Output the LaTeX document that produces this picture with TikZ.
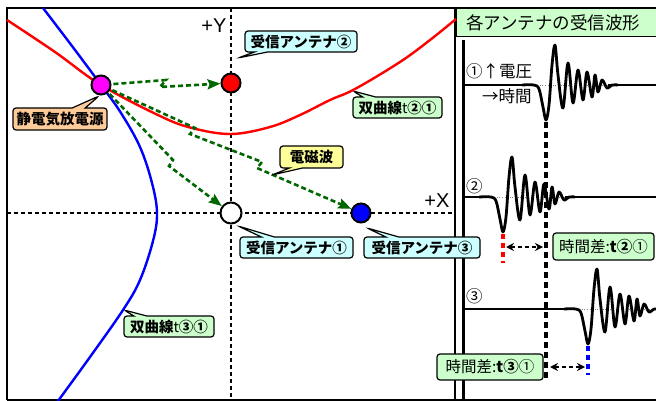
\documentclass[tikz,border=0pt]{standalone}
\usepackage{fontspec}
\setmainfont{Noto Sans CJK JP}
\newfontfamily\latinfont{Liberation Sans}
\usetikzlibrary{arrows.meta,shapes.callouts,calc}
\definecolor{cyanbox}{HTML}{CCFFFF}
\definecolor{orangebox}{HTML}{FFCC99}
\definecolor{greenbox}{HTML}{CCFFCC}
\definecolor{yellowbox}{HTML}{FFFF99}
\definecolor{wavegreen}{HTML}{006600}
\definecolor{srcmag}{HTML}{FF00FF}
\newcommand\wavecurve[2]{%
  \draw[dotted, line width=0.6pt, gray] (#1-14,#2) -- (#1+64,#2);
  \draw[wavestyle, shift={(#1,#2)}] plot[smooth,tension=0.55] coordinates {
  (-24,0) (-12,0) (-7,4) (-3,22) (0,35) (3,20) (6,-20) (9,-40) (12,-10)
  (17,23) (22,-22) (27,18) (32,-15) (37,15) (41,-13) (46,12) (49,-10)
  (52,7) (56,-5) (61,3) (66,0) (72,0)};
}
\tikzset{
  axisdash/.style={line width=2.6pt, dash pattern=on 4pt off 3pt},
  hyp/.style={line width=2.4pt},
  emwave/.style={wavegreen, line width=2.6pt, dash pattern=on 5pt off 3pt,
    -{Stealth[length=13pt,width=10pt,inset=2pt]}, shorten <=2pt},
  antenna/.style={circle, draw=black, line width=2pt, minimum size=19pt, inner sep=0pt},
  callbox/.style={rectangle callout, draw=black, line width=1.2pt, rounded corners=3pt,
    inner sep=0pt, callout pointer width=13pt,
    font=\fontsize{14.5}{14.5}\selectfont\bfseries},
  diffbox/.style={rectangle, draw=black, line width=1.2pt, rounded corners=3pt,
    inner sep=0pt, fill=greenbox, font=\fontsize{15.5}{15.5}\selectfont},
  wavestyle/.style={line width=2.8pt, line join=round},
  baseline/.style={line width=2pt},
  dbl/.style={line width=2pt, dash pattern=on 4pt off 3pt,
    {Stealth[length=8pt,width=8pt]}-{Stealth[length=8pt,width=8pt]}},
  panellabel/.style={font=\fontsize{16.5}{16.5}\selectfont, inner sep=0pt}
}
\begin{document}
\begin{tikzpicture}[x=1pt,y=-1pt]
\useasboundingbox (0,0) rectangle (656,401);
% frame
\draw[line width=2.6pt] (7,400) -- (7,8) -- (660,8);
\draw[line width=2.6pt] (7,400) -- (660,400);
% header
\node[draw=black, line width=1.5pt, fill=greenbox, minimum width=205pt, minimum height=28pt, inner sep=0pt, anchor=north west,
  font=\fontsize{17.5}{17.5}\selectfont] (hdr) at (455,8) {\hspace*{-10pt}各アンテナの受信波形};
\draw[line width=2pt] (455,8) -- (455,400);
% axes
\coordinate (ytop) at (231,8); \coordinate (ybot) at (231,400);
\coordinate (xl) at (7,213); \coordinate (xr) at (455,213);
\draw[axisdash] (ytop) -- (ybot);
\draw[axisdash] (xl) -- (xr);
\node[font=\latinfont\fontsize{20}{20}\selectfont, inner sep=0pt] (plusY) at (214,26) {+Y};
\node[font=\latinfont\fontsize{20}{20}\selectfont, inner sep=0pt] (plusX) at (437,201) {+X};
% hyperbolas
\draw[hyp, red] plot[smooth, tension=0.6] coordinates {(7,20) (55,52) (101,85) (160,116) (192,128) (231,134) (270,127) (300,115) (330,100) (355,89) (400,62) (430,40) (456,19)};
\draw[hyp, blue] plot[smooth, tension=0.6] coordinates {(43,8) (72,46) (101,85) (121,113) (140,147) (152,183) (157,213) (153,241) (140,280) (123,310) (90,357) (58,401)};
% antennas
\node[antenna, fill=srcmag] (src) at (101,85) {};
\node[antenna, fill=red] (ant2) at (231,83) {};
\node[antenna, fill=white, minimum size=21pt] (ant1) at (231,213) {};
\node[antenna, fill=blue] (ant3) at (361,213) {};
% em waves
\coordinate (a1) at (166,80); \coordinate (a2) at (160,87);
\draw[emwave] (src) -- (a1) -- (a2) -- (ant2);
\coordinate (b1) at (173,160); \coordinate (b2) at (169,166);
\draw[emwave] (src) -- (b1) -- (b2) -- (ant1);
\coordinate (c1) at (195,128); \coordinate (c2) at (190,134);
\coordinate (c3) at (262,162); \coordinate (c4) at (257,168);
\draw[emwave] (src) -- (c1) -- (c2) -- (c3) -- (c4) -- (ant3);
% waveform panel
\draw[line width=3pt] (463,40) -- (463,400);
\draw[baseline] (463,85) -- (532,85); \draw[baseline] (608,85) -- (660,85);
\draw[baseline] (463,197) -- (489,197); \draw[baseline] (565,197) -- (660,197);
\draw[baseline] (463,309) -- (574,309);
\wavecurve{546}{85}
\wavecurve{503}{197}
\wavecurve{588}{309}
\node[panellabel, anchor=west] (l1) at (466,71) {①↑電圧};
\node[panellabel, anchor=west] (l2) at (482,96) {→時間};
\node[panellabel, anchor=west] (n2) at (466,186) {②};
\node[panellabel, anchor=west] (n3) at (466,296) {③};
% time-difference markers
\coordinate (t1a) at (546,122); \coordinate (t1b) at (546,379);
\draw[line width=4pt, dash pattern=on 6pt off 4pt] (t1a) -- (t1b);
\coordinate (t2a) at (503,234); \coordinate (t2b) at (503,263);
\draw[red, line width=3.5pt, dash pattern=on 5pt off 4pt] (t2a) -- (t2b);
\coordinate (t3a) at (588,346); \coordinate (t3b) at (588,375);
\draw[blue, line width=3.5pt, dash pattern=on 5pt off 4pt] (t3a) -- (t3b);
\coordinate (d2l) at (506,247); \coordinate (d2r) at (543,247);
\draw[dbl] (d2l) -- (d2r);
\coordinate (d3l) at (550,367); \coordinate (d3r) at (585,367);
\draw[dbl] (d3l) -- (d3r);
\node[diffbox, minimum width=101pt, minimum height=27pt] (diff21) at (603.5,246.5) {時間差:{\bfseries t②}①};
\node[diffbox, minimum width=106pt, minimum height=26pt] (diff31) at (490,367) {時間差:{\bfseries t③}①};
% callouts
\node[callbox, fill=cyanbox, minimum width=112pt, minimum height=21pt, callout absolute pointer={(238,58)}] (lab2) at (301,41.5) {受信アンテナ②};
\node[callbox, fill=orangebox, minimum width=94pt, minimum height=22pt, callout absolute pointer={(99,96)}] (labsrc) at (60,119) {静電気放電源};
\node[callbox, fill=greenbox, minimum width=89pt, minimum height=21pt, callout absolute pointer={(353,91)}] (labh21) at (397.5,107.5) {双曲線{\mdseries t}②①};
\node[callbox, fill=yellowbox, minimum width=63pt, minimum height=22pt, callout absolute pointer={(272,175)}] (labem) at (311.5,157) {電磁波};
\node[callbox, fill=cyanbox, minimum width=113pt, minimum height=21pt, callout absolute pointer={(238,226)}] (lab1) at (296.5,247.5) {受信アンテナ①};
\node[callbox, fill=cyanbox, minimum width=116pt, minimum height=21pt, callout absolute pointer={(367,228)}] (lab3) at (422,247.5) {受信アンテナ③};
\node[callbox, fill=greenbox, minimum width=90pt, minimum height=21pt, callout absolute pointer={(124,310)}] (labh31) at (169,326.5) {双曲線{\mdseries t}③①};
\end{tikzpicture}
\end{document}
